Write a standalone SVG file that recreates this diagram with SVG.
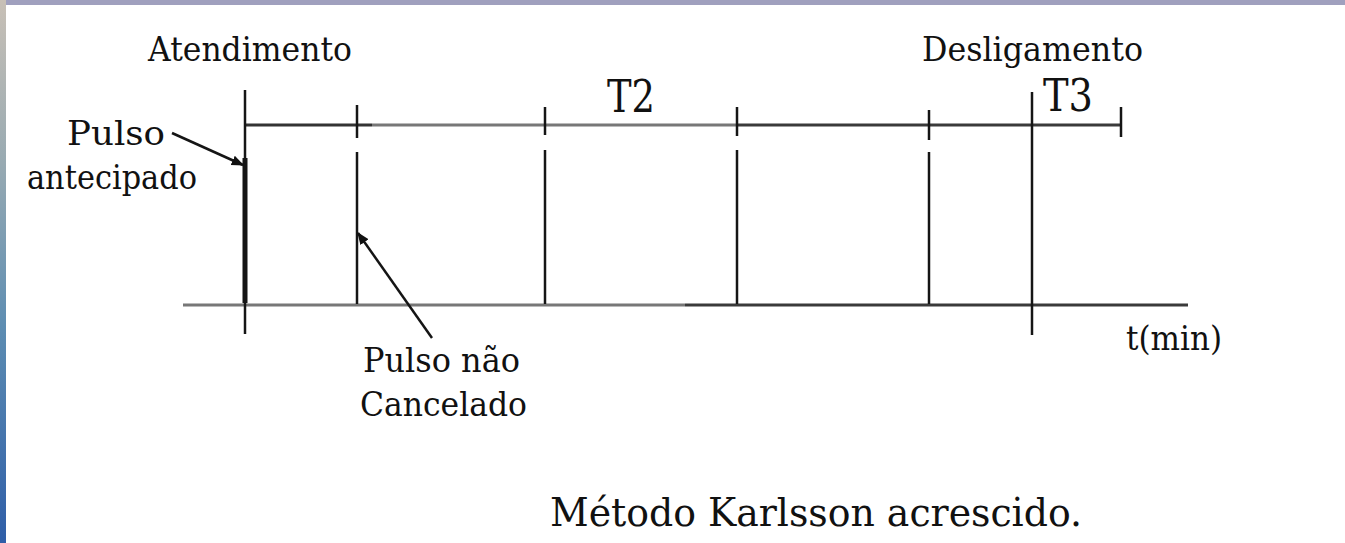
<svg xmlns="http://www.w3.org/2000/svg" width="1345" height="543" viewBox="0 0 1345 543">
<defs>
<linearGradient id="lg" x1="0" y1="0" x2="0" y2="1">
<stop offset="0" stop-color="#c8c0b6"/>
<stop offset="0.3" stop-color="#98aab2"/>
<stop offset="0.6" stop-color="#5d8db2"/>
<stop offset="1" stop-color="#2f5ea8"/>
</linearGradient>
<marker id="ah" viewBox="0 0 10 10" refX="9" refY="5" markerWidth="5" markerHeight="5" orient="auto" markerUnits="strokeWidth">
<path d="M0,1 L10,5 L0,9 z" fill="#111"/>
</marker>
<style>
text{fill:#111;font-size:33px;font-family:'DejaVu Serif',serif}
.big{font-size:44px}
.cap{font-size:39px}
.ln{stroke:#151515;stroke-width:2.5;fill:none}
.thick{stroke-width:5}
.ax{stroke-width:3;fill:none}
.arr{stroke:#151515;stroke-width:2.5;fill:none;marker-end:url(#ah)}
</style>
</defs>
<rect width="1345" height="543" fill="#ffffff"/>
<rect x="0" y="0" width="1345" height="5" fill="#a0a0be"/>
<rect x="0" y="0" width="6" height="543" fill="url(#lg)"/>

<g id="connectors">
<line class="ax" x1="245" y1="125" x2="372" y2="125" stroke="#333"/>
<line class="ax" x1="372" y1="125" x2="736" y2="125" stroke="#777"/>
<line class="ax" x1="736" y1="125" x2="1122" y2="125" stroke="#3a3a3a"/>
<line class="ax" x1="183" y1="305" x2="685" y2="305" stroke="#777"/>
<line class="ax" x1="685" y1="305" x2="1188" y2="305" stroke="#3a3a3a"/>
<line class="ln" x1="245" y1="90" x2="245" y2="158"/>
<line class="ln thick" x1="245" y1="158" x2="245" y2="303"/>
<line class="ln" x1="245" y1="303" x2="245" y2="334"/>
<line class="ln" x1="357" y1="105" x2="357" y2="138"/>
<line class="ln" x1="357" y1="152" x2="357" y2="304"/>
<line class="ln" x1="545" y1="107" x2="545" y2="135"/>
<line class="ln" x1="545" y1="150" x2="545" y2="304"/>
<line class="ln" x1="737" y1="107" x2="737" y2="136"/>
<line class="ln" x1="737" y1="150" x2="737" y2="304"/>
<line class="ln" x1="929" y1="110" x2="929" y2="140"/>
<line class="ln" x1="929" y1="152" x2="929" y2="304"/>
<line class="ln" x1="1032" y1="92" x2="1032" y2="335"/>
<line class="ln" x1="1121" y1="107" x2="1121" y2="137"/>
<line class="arr" x1="172" y1="133" x2="243" y2="165"/>
<line class="arr" x1="432" y1="338" x2="358" y2="233"/>
</g>

<g id="atendimento"><text x="148" y="61" textLength="204" lengthAdjust="spacingAndGlyphs">Atendimento</text></g>
<g id="desligamento"><text x="922" y="61" textLength="221" lengthAdjust="spacingAndGlyphs">Desligamento</text></g>
<g id="t2"><text class="big" x="607" y="112" textLength="48" lengthAdjust="spacingAndGlyphs">T2</text></g>
<g id="t3"><text class="big" x="1043" y="111" textLength="50" lengthAdjust="spacingAndGlyphs">T3</text></g>
<g id="pulso-antecipado">
<text x="67" y="145" textLength="98" lengthAdjust="spacingAndGlyphs">Pulso</text>
<text x="27" y="189" textLength="170" lengthAdjust="spacingAndGlyphs">antecipado</text>
</g>
<g id="pulso-nao-cancelado">
<text x="363" y="372" textLength="157" lengthAdjust="spacingAndGlyphs">Pulso não</text>
<text x="360" y="416" textLength="167" lengthAdjust="spacingAndGlyphs">Cancelado</text>
</g>
<g id="tmin"><text x="1126" y="350" textLength="96" lengthAdjust="spacingAndGlyphs">t(min)</text></g>
<g id="caption"><text class="cap" x="550" y="526" textLength="532" lengthAdjust="spacingAndGlyphs">Método Karlsson acrescido.</text></g>
</svg>
